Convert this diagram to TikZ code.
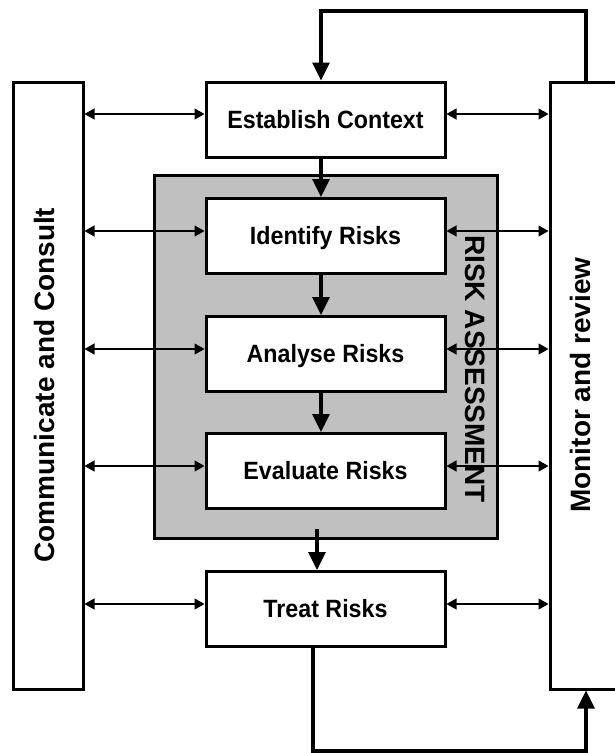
\documentclass[tikz,border=0pt]{standalone}
\usepackage{fontspec}
\setmainfont{Liberation Sans}
\newfontfamily\boxfont{Liberation Sans}[FakeStretch=0.93]
\usetikzlibrary{arrows.meta}
\definecolor{panel}{RGB}{192,192,192}
\begin{document}
\begin{tikzpicture}[x=1pt,y=-1pt,
  stage/.style={draw, line width=3pt, fill=white, minimum width=239pt,
    minimum height=75pt, inner sep=0pt, text height=17.9pt, text depth=0pt,
    font=\boxfont\bfseries\fontsize{25}{30}\selectfont},
  side/.style={draw, line width=3pt, fill=white, inner sep=0pt},
  sidetext/.style={rotate=90, inner sep=0pt, text height=20pt, text depth=0pt,
    font=\bfseries\fontsize{28}{34}\selectfont},
  asmtext/.style={rotate=-90, inner sep=0pt, text height=20pt, text depth=0pt,
    font=\bfseries\fontsize{28}{34}\selectfont},
  flow/.style={line width=3.2pt, -{Triangle[length=18pt,width=17pt]}},
  thinarr/.style={line width=1.2pt,
    {Triangle[length=10pt,width=11pt]}-{Triangle[length=10pt,width=11pt]}}]
\useasboundingbox (0,0) rectangle (614,753);

% risk assessment panel and the two side bars
\node[draw, line width=3pt, fill=panel, minimum width=343pt,
  minimum height=363pt, inner sep=0pt] (ra) at (325.5,356.5) {};
\node[side, minimum width=70pt, minimum height=607pt] (cc) at (48,385.5) {};
% the monitoring bar runs off the right edge of the page
\node[side, minimum width=100pt, minimum height=607pt] (mr) at (600,385.5) {};
\node[sidetext] (cct) at (44,385) {Communicate and Consult};
\node[sidetext] (mrt) at (580,385) {Monitor and review};
\node[asmtext] (rat) at (475,369) {RISK ASSESSMENT};

% process steps
\node[stage] (est) at (325.5,119.5) {Establish Context};
\node[stage] (ide) at (325.5,236) {Identify Risks};
\node[stage] (ana) at (325.5,354) {Analyse Risks};
\node[stage] (eva) at (325.5,471) {Evaluate Risks};
\node[stage] (tre) at (325.5,609) {Treat Risks};

% helper coordinates for the connector routes
\coordinate (fbL) at (321,11);
\coordinate (fbR) at (586,11);
\coordinate (gt) at (317,529);
\coordinate (lb) at (313,751);
\coordinate (r1) at (0,114);
\coordinate (r2) at (0,231);
\coordinate (r3) at (0,349);
\coordinate (r4) at (0,466);
\coordinate (r5) at (0,604);

% main flow
\draw[flow] (mr.north -| fbR) -- (fbR) -- (fbL) -- (est.north -| fbL);
\draw[flow] (est.south -| fbL) -- (ide.north -| fbL);
\draw[flow] (ide.south -| fbL) -- (ana.north -| fbL);
\draw[flow] (ana.south -| fbL) -- (eva.north -| fbL);
\draw[flow] (gt) -- (tre.north -| gt);
\draw[flow] (tre.south -| lb) -- (lb) -| (mr.south -| fbR);

% two-way links to the side bars
\foreach \s/\r in {est/r1, ide/r2, ana/r3, eva/r4, tre/r5} {
  \draw[thinarr] (cc.east |- \r) -- (\s.west |- \r);
  \draw[thinarr] (\s.east |- \r) -- (mr.west |- \r);
}
\end{tikzpicture}
\end{document}
